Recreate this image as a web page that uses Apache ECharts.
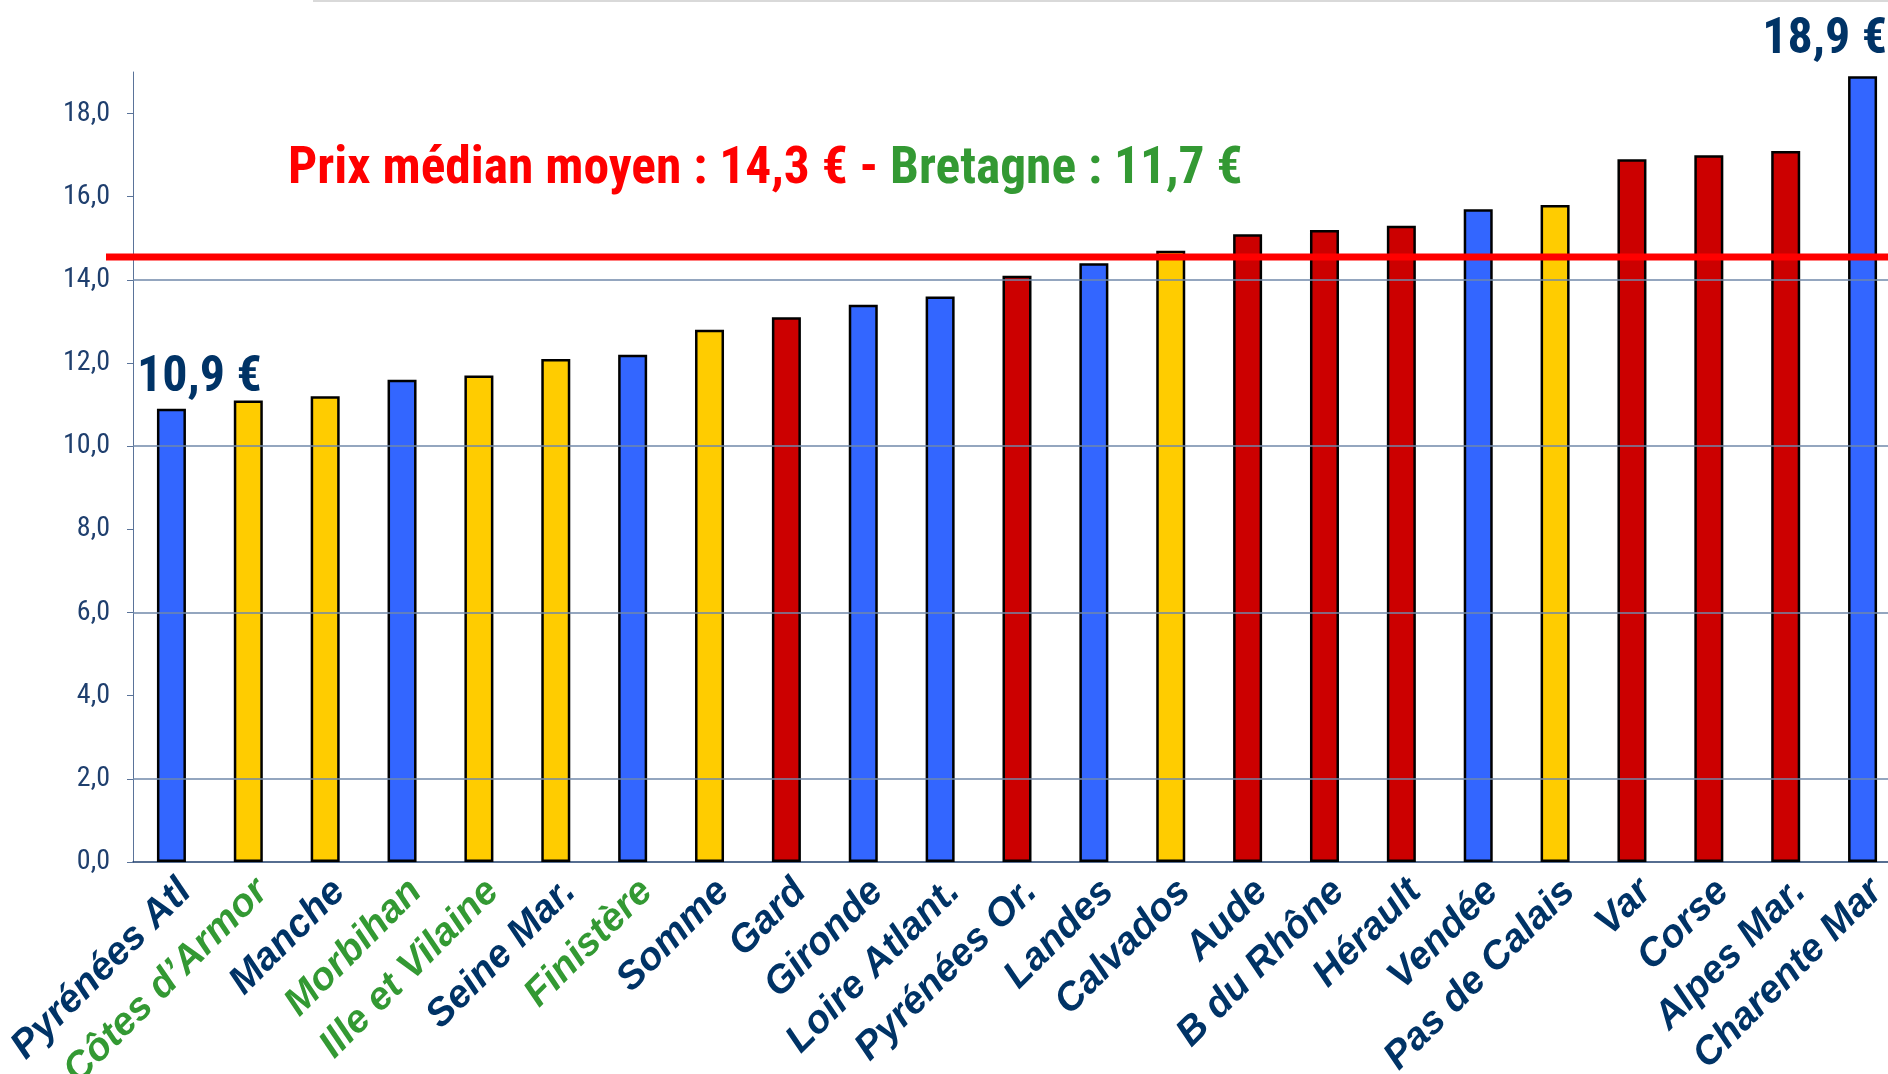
<!DOCTYPE html>
<html><head><meta charset="utf-8">
<script src="https://cdn.jsdelivr.net/npm/echarts@6/dist/echarts.min.js"></script>
<style>html,body{margin:0;padding:0;background:#fff;overflow:hidden}#c{width:1888px;height:1074px}</style>
</head><body><div id="c"></div>
<script>
const categories = ['Pyrénées Atl','Côtes d’Armor','Manche','Morbihan','Ille et Vilaine','Seine Mar.','Finistère','Somme','Gard','Gironde','Loire Atlant.','Pyrénées Or.','Landes','Calvados','Aude','B du Rhône','Hérault','Vendée','Pas de Calais','Var','Corse','Alpes Mar.','Charente Mar'];
const values = [10.9,11.1,11.2,11.6,11.7,12.1,12.2,12.8,13.1,13.4,13.6,14.1,14.4,14.7,15.1,15.2,15.3,15.7,15.8,16.9,17.0,17.1,18.9];
const groups = ['B','Y','Y','B','Y','Y','B','Y','R','B','B','R','B','Y','R','R','R','B','Y','R','R','R','B'];
const bretagne = ['Côtes d’Armor','Morbihan','Ille et Vilaine','Finistère'];
const annotatedIdx = [0, 22];
const yTicks = [0,2,4,6,8,10,12,14,16,18];
const gridValues = [2,6,10,14];
const medianLineValue = 14.55;
const titleMain = 'Prix médian moyen : 14,3 € - ';
const titleBretagne = 'Bretagne : 11,7 €';

const groupColors = {B:'#3366FF', Y:'#FFCC00', R:'#CC0000'};
const NAVY = '#003366';
const GREEN = '#339933';
const NARROW = 'Roboto';
const fmt = v => v.toFixed(1).replace('.', ',');

const chart = echarts.init(document.getElementById('c'));
const barData = values.map((v, i) => {
  const item = {value: v, itemStyle: {color: groupColors[groups[i]]}};
  if (annotatedIdx.includes(i)) {
    item.label = {show: true, position: 'top', formatter: fmt(v) + ' €',
      fontFamily: NARROW, fontWeight: 'bold condensed', fontSize: 50, color: NAVY,
      offset: i === 0 ? [28, 0] : [-38, -6]};
  }
  return item;
});

chart.setOption({
  animation: false,
  title: {
    left: 283, top: 139,
    text: '{r|' + titleMain + '}{g|' + titleBretagne + '}',
    textStyle: {rich: {
      r: {color: '#FF0000', fontFamily: NARROW, fontWeight: 'bold condensed', fontSize: 51.5},
      g: {color: GREEN, fontFamily: NARROW, fontWeight: 'bold condensed', fontSize: 51.5}
    }}
  },
  grid: {left: 133, right: -13, top: 72, bottom: 212, containLabel: false, outerBoundsMode: 'none'},
  xAxis: {
    type: 'category', data: categories,
    axisLine: {lineStyle: {color: '#1f3f6e', width: 1.5}},
    axisTick: {length: 7, lineStyle: {color: '#1f3f6e'}},
    axisLabel: {
      rotate: 45, margin: 10, interval: 0, verticalAlign: 'top',
      fontFamily: "'Liberation Sans',Arial,sans-serif", fontWeight: 'bold', fontStyle: 'italic', fontSize: 39,
      color: (val) => bretagne.includes(val) ? GREEN : NAVY
    }
  },
  yAxis: {
    type: 'value', min: 0, max: 19, interval: 2,
    axisLine: {show: true, lineStyle: {color: '#5a7399', width: 1}},
    axisTick: {show: true, length: 6, customValues: yTicks, lineStyle: {color: '#5a7399'}},
    splitLine: {show: false},
    axisLabel: {customValues: yTicks, margin: 23, fontFamily: NARROW, fontWeight: 'normal condensed', fontSize: 28, color: '#1f3f6e', formatter: fmt}
  },
  series: [
    {type: 'line', data: [], z: 1, silent: true,
     markLine: {silent: true, symbol: 'none', label: {show: false},
       lineStyle: {color: '#7088aa', width: 1.5, type: 'solid'},
       data: gridValues.map(v => ({yAxis: v}))}},
    {type: 'bar', data: barData, barWidth: 29, z: 2,
     itemStyle: {borderColor: '#000', borderWidth: 2.5}}
  ]
});

const yPx = chart.convertToPixel({yAxisIndex: 0}, medianLineValue);
chart.setOption({
  graphic: [
    {type: 'rect', shape: {x: 313, y: 0, width: 1575, height: 2}, style: {fill: '#d9d9d9'}, z: 10},
    {type: 'line', shape: {x1: 106, y1: yPx, x2: 1888, y2: yPx}, style: {stroke: '#FF0000', lineWidth: 7}, z: 100}
  ]
});
</script></body></html>
